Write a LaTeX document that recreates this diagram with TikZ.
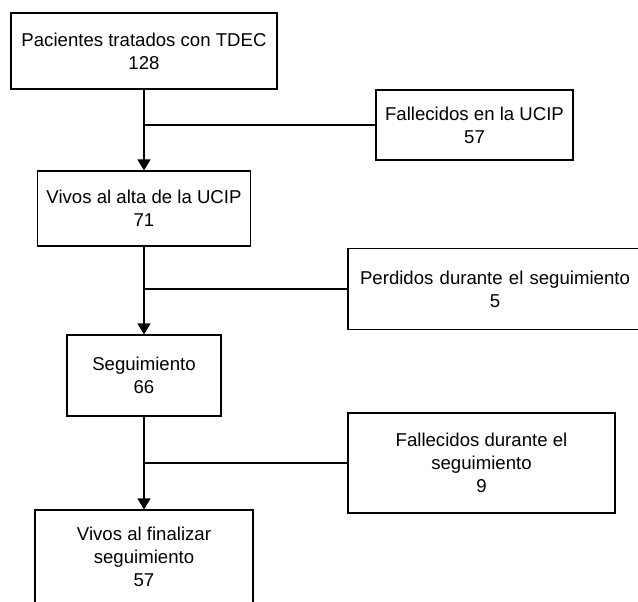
\documentclass[tikz,border=0pt]{standalone}
\usepackage{fontspec}
\setmainfont{Liberation Sans}
\usepackage{tikz}
\usetikzlibrary{arrows.meta, positioning}

\tikzset{caja/.style={draw, line width=1.1pt, align=center, inner sep=0pt, font=\fontsize{18.6}{23}\selectfont},
	flecha/.style={line width=1.1pt, -{Triangle[width=13pt,length=11pt]}},
	rama/.style={line width=1.1pt}}

\begin{document}
\begin{tikzpicture}[x=1pt,y=-1pt]
	                %\draw[step=10pt ,color=gray] (0,0) grid (638,602);
			\useasboundingbox (0,0) rectangle (638,602);
			\clip (0,0) rectangle (638,602);
			\node[caja, minimum width=266pt, minimum height=76pt] (pacientes) at (144,51) {Pacientes tratados con TDEC\\128};
			\node[caja, minimum width=197pt, minimum height=70pt] (fallUCIP) at (474.5,125) {Fallecidos en la UCIP\\57};
			\node[caja, minimum width=213pt, minimum height=75pt] (vivosAlta) at (144,208.5) {Vivos al alta de la UCIP\\71};
			\node[caja, minimum width=294pt, minimum height=81pt, text width=290pt] (perdidos) at (495,289) {Perdidos durante el seguimiento\\5};
			\node[caja, minimum width=154pt, minimum height=81pt] (seguim) at (144,375.5) {Seguimiento\\66};
			\node[caja, minimum width=267pt, minimum height=100pt] (fallSeg) at (481.5,463) {Fallecidos durante el\\seguimiento\\9};
			\node[caja, minimum width=218pt, minimum height=94pt] (vivosFin) at (144,557) {Vivos al finalizar\\seguimiento\\57};
			\draw[flecha] (pacientes.south) -- (vivosAlta.north);
			\draw[flecha] (vivosAlta.south) -- (seguim.north);
			\draw[flecha] (seguim.south) -- (vivosFin.north);
			\draw[rama] (fallUCIP.west) -- (fallUCIP.west -| pacientes.south);
			\draw[rama] (perdidos.west) -- (perdidos.west -| vivosAlta.south);
			\draw[rama] (fallSeg.west) -- (fallSeg.west -| seguim.south);
	\end{tikzpicture}
\end{document}
